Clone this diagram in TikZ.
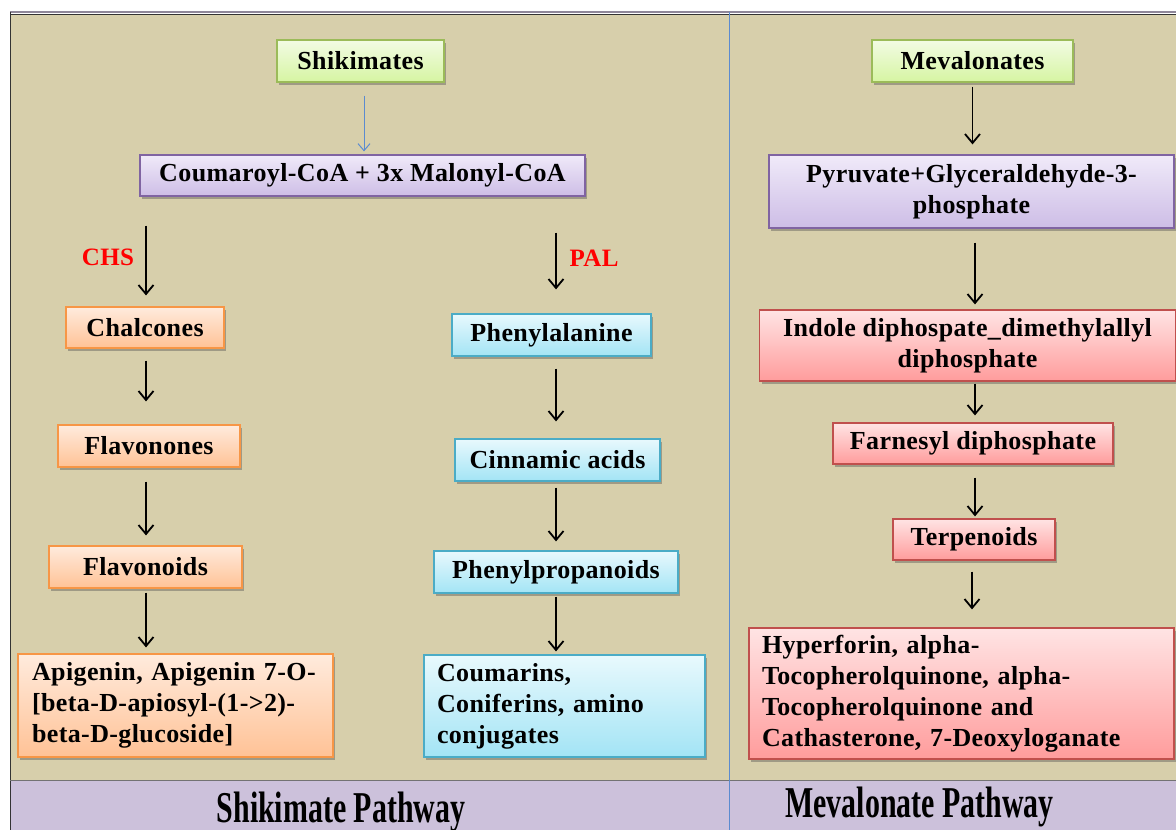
\documentclass[tikz,border=0pt]{standalone}
\usepackage{fontspec}
\setmainfont[LetterSpace=1.5]{Liberation Serif}
\newfontfamily\condfont[FakeStretch=0.68]{Liberation Serif}
\usetikzlibrary{positioning,shadows,arrows.meta}

\definecolor{tanbg}{HTML}{D7CFAB}
\definecolor{lavbar}{HTML}{CCC1DB}
\definecolor{divline}{HTML}{5B8BD0}
\definecolor{greenline}{HTML}{9BBB59}
\definecolor{greentop}{HTML}{F2FBE4}
\definecolor{greenbot}{HTML}{D6F5A2}
\definecolor{purpline}{HTML}{8064A2}
\definecolor{purptop}{HTML}{F0EAF9}
\definecolor{purpbot}{HTML}{CDBDE6}
\definecolor{orline}{HTML}{F79646}
\definecolor{ortop}{HTML}{FFEBDD}
\definecolor{orbot}{HTML}{FFC296}
\definecolor{blueline}{HTML}{4BACC6}
\definecolor{bluetop}{HTML}{E8F9FD}
\definecolor{bluebot}{HTML}{A3E4F5}
\definecolor{redline}{HTML}{C0504D}
\definecolor{redtop}{HTML}{FFE4E4}
\definecolor{redbot}{HTML}{FF9C9C}

\tikzset{
  box/.style={draw, line width=1.2pt, inner sep=0pt, align=center,
    font=\bfseries\fontsize{26}{31}\selectfont,
    drop shadow={shadow xshift=2pt,shadow yshift=-2.5pt,opacity=0.4,fill=black!70}},
  shikbox/.style={box, draw=greenline, top color=greentop, bottom color=greenbot},
  purpbox/.style={box, draw=purpline, top color=purptop, bottom color=purpbot},
  flavbox/.style={box, draw=orline, top color=ortop, bottom color=orbot},
  phenbox/.style={box, draw=blueline, top color=bluetop, bottom color=bluebot},
  terpbox/.style={box, draw=redline, top color=redtop, bottom color=redbot},
  listbox/.style={align=left, inner xsep=14pt},
  flow/.style={-{Straight Barb[length=9pt,width=15pt]}, line width=1.8pt},
  enzyme/.style={text=red, font=\bfseries\fontsize{25}{30}\selectfont},
  pathname/.style={anchor=base, font=\condfont\bfseries\fontsize{44}{50}\selectfont}
}

\begin{document}
\begin{tikzpicture}[x=1pt,y=-1pt]
\useasboundingbox (0,0) rectangle (1176,830);
% background panels
\fill[white] (0,0) rectangle (1176,830);
\fill[tanbg] (10,14) rectangle (1176,781);
\fill[lavbar] (10,781) rectangle (1176,830);
\draw[lavbar!70!black, line width=1.5pt] (10,12) -- (1176,12);
\draw[black!80, line width=1pt] (10,14.5) -- (1176,14.5);
\draw[black!80, line width=1pt] (10,12) -- (10,830);
\draw[black!55, line width=1.5pt] (10,780.5) -- (1176,780.5);
\draw[divline, line width=0.9pt] (729,12) -- (729,830);

% shikimate side
\draw node (shik) at (360.5,61) [shikbox, minimum width=167pt, minimum height=42pt]{Shikimates};
\draw node (mal) at (362.5,175.5) [purpbox, minimum width=445pt, minimum height=41pt]{Coumaroyl-CoA + 3x Malonyl-CoA};
\draw node (chal) at (145,327.5) [flavbox, minimum width=158pt, minimum height=41pt]{Chalcones};
\draw node (flavn) at (149,446) [flavbox, minimum width=182pt, minimum height=42pt]{Flavonones};
\draw node (flavd) at (145.5,567) [flavbox, minimum width=193pt, minimum height=42pt]{Flavonoids};
\draw node (api) at (175.5,705.5) [flavbox, listbox, text width=287pt, minimum height=103pt]{Apigenin, Apigenin 7-O-\\{[}beta-D-apiosyl-(1->2)-\\beta-D-glucoside{]}};
\draw node (phe) at (551.5,335) [phenbox, minimum width=199pt, minimum height=42pt]{Phenylalanine};
\draw node (cin) at (557.5,460) [phenbox, minimum width=205pt, minimum height=42pt]{Cinnamic acids};
\draw node (phpr) at (556,572) [phenbox, minimum width=244pt, minimum height=42pt]{Phenylpropanoids};
\draw node (coum) at (564.5,706) [phenbox, listbox, inner xsep=13pt, text width=255pt, minimum height=102pt]{Coumarins,\\Coniferins, amino\\conjugates};
\draw node (chs) at (108,257) [enzyme]{CHS};
\draw node (pal) at (594,258) [enzyme]{PAL};

% mevalonate side
\draw node (mev) at (972.5,61) [shikbox, minimum width=201pt, minimum height=42pt]{Mevalonates};
\draw node (pyr) at (971.5,191.5) [purpbox, minimum width=405pt, minimum height=73pt]{Pyruvate+Glyceraldehyde-3-\\phosphate};
\draw node (ind) at (967.5,345.5) [terpbox, minimum width=416pt, minimum height=71pt]{Indole diphospate\_dimethylallyl\\diphosphate};
\draw node (farn) at (973,443.5) [terpbox, minimum width=280pt, minimum height=41pt]{Farnesyl diphosphate};
\draw node (terp) at (974,539.5) [terpbox, minimum width=162pt, minimum height=41pt]{Terpenoids};
\draw node (hyp) at (961.5,693.5) [terpbox, listbox, inner xsep=13pt, text width=399pt, minimum height=131pt]{Hyperforin, alpha-\\Tocopherolquinone, alpha-\\Tocopherolquinone and\\Cathasterone, 7-Deoxyloganate};

\draw node (shikpath) at (341,822) [pathname]{Shikimate Pathway};
\draw node (mevpath) at (919.5,817) [pathname]{Mevalonate Pathway};

% arrows
\draw[-{Straight Barb[length=7pt,width=12pt]}, divline, line width=1pt, shorten <=13pt, shorten >=3pt]
  ([xshift=3.5pt]shik.south) -- ([xshift=1.5pt]mal.north);
\draw[flow, shorten <=29pt, shorten >=11pt] ([xshift=1pt]chal.north |- mal.south) -- ([xshift=1pt]chal.north);
\draw[flow, shorten <=12pt, shorten >=23pt] ([xshift=1pt]chal.south) -- ([xshift=1pt]chal.south |- flavn.north);
\draw[flow, shorten <=14pt, shorten >=10pt] ([xshift=-3pt]flavn.south) -- ([xshift=0.5pt]flavd.north);
\draw[flow, shorten <=4pt, shorten >=6pt] ([xshift=0.5pt]flavd.south) -- ([xshift=0.5pt]flavd.south |- api.north);
\draw[flow, shorten <=36pt, shorten >=24pt] ([xshift=4.5pt]phe.north |- mal.south) -- ([xshift=4.5pt]phe.north);
\draw[flow, shorten <=12pt, shorten >=17pt] ([xshift=4.5pt]phe.south) -- ([xshift=-1.5pt]cin.north);
\draw[flow, shorten <=6pt, shorten >=9pt] ([xshift=-1.5pt]cin.south) -- (phpr.north);
\draw[flow, shorten <=3pt, shorten >=3pt] (phpr.south) -- (phpr.south |- coum.north);
\draw[flow, shorten <=4pt, shorten >=10pt] (mev.south) -- (mev.south |- pyr.north);
\draw[flow, shorten <=14pt, shorten >=5pt] ([xshift=3.5pt]pyr.south) -- ([xshift=7.5pt]ind.north);
\draw[flow, shorten <=2pt, shorten >=7pt] ([xshift=7.5pt]ind.south) -- ([xshift=2pt]farn.north);
\draw[flow, shorten <=13pt, shorten >=2pt] ([xshift=2pt]farn.south) -- ([xshift=1pt]terp.north);
\draw[flow, shorten <=11pt, shorten >=18pt] ([xshift=-2pt]terp.south) -- ([xshift=-2pt]terp.south |- hyp.north);
\end{tikzpicture}
\end{document}
